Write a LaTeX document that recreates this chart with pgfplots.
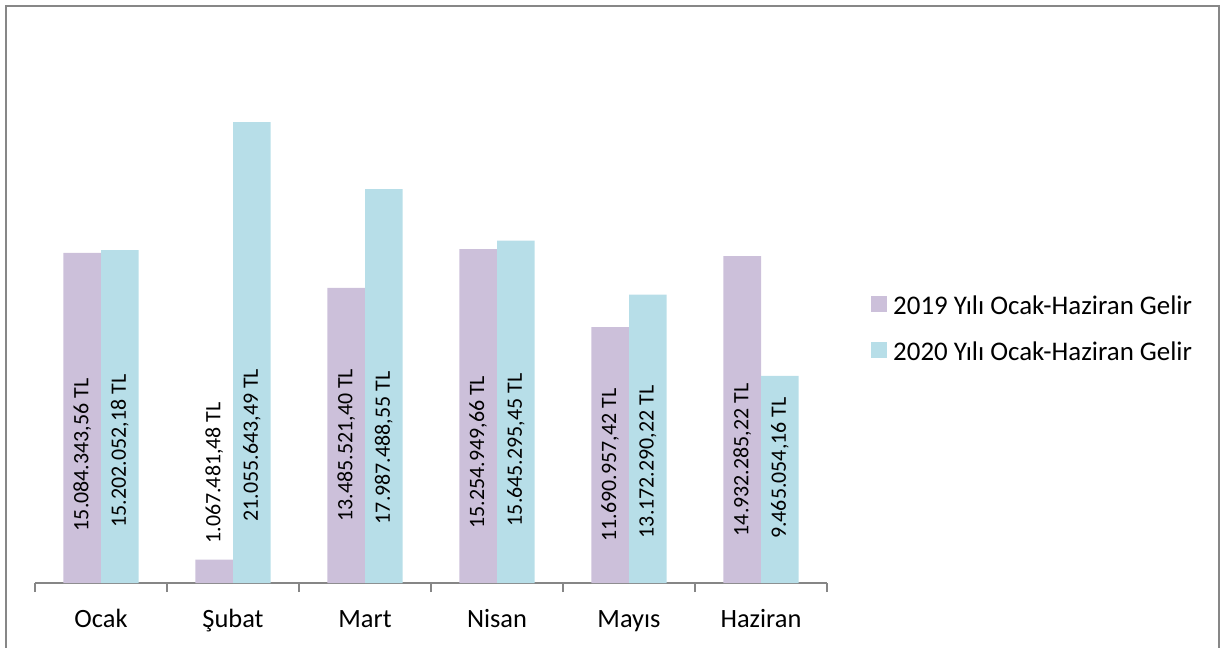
\documentclass[border=0pt]{standalone}
\usepackage{pgfplots}
\usepackage{pgfplotstable}
\pgfplotsset{compat=1.18}
\usepackage{fontspec}
\setmainfont{Carlito}

\definecolor{c19}{HTML}{CCC0DA}
\definecolor{c20}{HTML}{B7DEE8}
\definecolor{axgray}{HTML}{868686}
\definecolor{frame}{HTML}{878787}

% monthly income, TL
\pgfplotstableread{
x a b
0 15084343.56 15202052.18
1 1067481.48 21055643.49
2 13485521.40 17987488.55
3 15254949.66 15645295.45
4 11690957.42 13172290.22
5 14932285.22 9465054.16
}\gelir

% label centres (y)
\pgfplotstableread[col sep=semicolon]{
x;p;t
-0.1425;5850000;15.084.343,56 TL
0.1425;6030000;15.202.052,18 TL
0.8575;5030000;1.067.481,48 TL
1.1425;6300000;21.055.643,49 TL
1.8575;6300000;13.485.521,40 TL
2.1425;6170000;17.987.488,55 TL
2.8575;5980000;15.254.949,66 TL
3.1425;6080000;15.645.295,45 TL
3.8575;5390000;11.690.957,42 TL
4.1425;5530000;13.172.290,22 TL
4.8575;5620000;14.932.285,22 TL
5.1425;5250000;9.465.054,16 TL
}\etiket

\begin{document}
\begin{tikzpicture}
\useasboundingbox (0,0) rectangle (1224bp,648bp);
\draw[frame, line width=2.5bp] (6bp,-10bp) -- (6bp,642bp) -- (1219bp,642bp) -- (1219bp,-10bp);
\begin{axis}[
  at={(35bp,65bp)}, anchor=south west,
  scale only axis, width=792bp, height=547.25bp,
  xmin=-0.5, xmax=5.5, ymin=0, ymax=25000000,
  clip=false,
  axis y line=none,
  axis x line=bottom,
  axis line style={-, draw=axgray, line width=1.2bp},
  xtick={0,...,5},
  xticklabels={Ocak,Şubat,Mart,Nisan,Mayıs,Haziran},
  major tick length=0pt,
  minor xtick={-0.5,0.5,...,5.5},
  minor tick length=9bp,
  tick align=outside,
  minor tick style={draw=axgray, line width=1.2bp},
  xticklabel style={font=\fontsize{26.5}{30}\selectfont, anchor=base, yshift=-44bp},
  legend cell align=left,
  legend image code/.code={\fill[#1] (0bp,-6.6bp) rectangle (16bp,9.4bp);},
  legend style={at={(1.0556,0.465)}, anchor=west, draw=none, fill=none,
    font=\fontsize{27}{31}\selectfont, inner sep=0pt, row sep=24bp, column sep=5bp,
    nodes={inner sep=1bp}},
]
\addplot[ybar, bar width=0.285, bar shift=-0.1425, fill=c19, draw=none] table[x=x, y=a] {\gelir};
\addlegendentry{2019 Yılı Ocak-Haziran Gelir}
\addplot[ybar, bar width=0.285, bar shift=0.1425, fill=c20, draw=none] table[x=x, y=b] {\gelir};
\addlegendentry{2020 Yılı Ocak-Haziran Gelir}
\addplot[forget plot, draw=none, mark=none,
  nodes near coords, point meta=explicit symbolic,
  nodes near coords align={anchor=center},
  every node near coord/.append style={rotate=90, anchor=center, inner sep=0pt,
    font=\fontsize{22}{26}\selectfont, text=black}]
  table[x=x, y=p, meta=t] {\etiket};
\end{axis}
\end{tikzpicture}
\end{document}
